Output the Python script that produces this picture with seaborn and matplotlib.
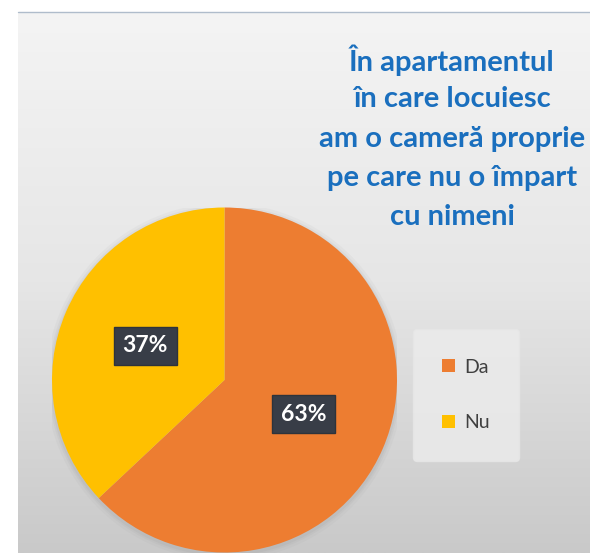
import numpy as np
import matplotlib
matplotlib.use("Agg")
import matplotlib.pyplot as plt
import seaborn as sns

# ---- data ----
answers = ["Da", "Nu"]
shares = [63, 37]
slice_colors = ["#ED7D31", "#FFC000"]
title_lines = ["În apartamentul", "în care locuiesc", "am o cameră proprie",
               "pe care nu o împart", "cu nimeni"]

sns.set_theme(style="white")
plt.rcParams["font.family"] = ["Lato", "DejaVu Sans"]

W, H = 590, 553
fig = plt.figure(figsize=(W / 100, H / 100), dpi=100, facecolor="white")

# ---- gradient panel ----
bg = fig.add_axes([18 / W, 0, 1 - 18 / W, 1 - 12 / H])
grad = np.linspace(0, 1, 256).reshape(-1, 1)
cmap = matplotlib.colors.LinearSegmentedColormap.from_list("bg", ["#F4F4F4", "#E6E6E6", "#C9C9C9"])
bg.imshow(grad, aspect="auto", cmap=cmap, extent=[0, 1, 0, 1])
bg.axis("off")
fig.add_artist(plt.Line2D([18 / W, 1], [1 - 12 / H, 1 - 12 / H], color="#AFBCCB", lw=1))

# ---- pie ----
cx, cy, r = 224.5, 380, 172.5
ax = fig.add_axes([(cx - r) / W, (H - cy - r) / H, 2 * r / W, 2 * r / H])
# soft shadow
for k, a in zip([1.035, 1.02, 1.01], [0.06, 0.08, 0.10]):
    ax.add_patch(plt.Circle((0, -0.01), k, color="#8a8a8a", alpha=a, lw=0))
wedges, _, autotexts = ax.pie(
    shares, colors=slice_colors, startangle=90, counterclock=False,
    autopct="%1.0f%%", pctdistance=0.5, radius=1,
    wedgeprops=dict(linewidth=0),
    textprops=dict(color="white", fontsize=16.5, fontweight="bold"))
for t in autotexts:
    t.set_bbox(dict(boxstyle="square,pad=0.38", facecolor="#383D47", edgecolor="#2E333B"))
ax.set_xlim(-1, 1)
ax.set_ylim(-1, 1)
ax.set_aspect("equal")
ax.axis("off")

# ---- title ----
for i, line in enumerate(title_lines):
    fig.text(452 / W, 1 - (60 + i * 39.3) / H, line, ha="center", va="center",
             fontsize=21, fontweight="bold", color="#1A6FBE")

# ---- legend ----
leg = fig.legend(wedges, answers, loc="center", bbox_to_anchor=(466 / W, 1 - 395 / H),
                 frameon=True, fontsize=14, labelspacing=2.0, handlelength=0.65,
                 handleheight=0.65, handletextpad=0.5, borderpad=1.5, labelcolor="#404040")
leg.get_frame().set_facecolor("#EBEBEB")
leg.get_frame().set_edgecolor("#E6E6E6")
leg.get_frame().set_alpha(0.85)

fig.savefig("out.png", dpi=100, facecolor="white")
